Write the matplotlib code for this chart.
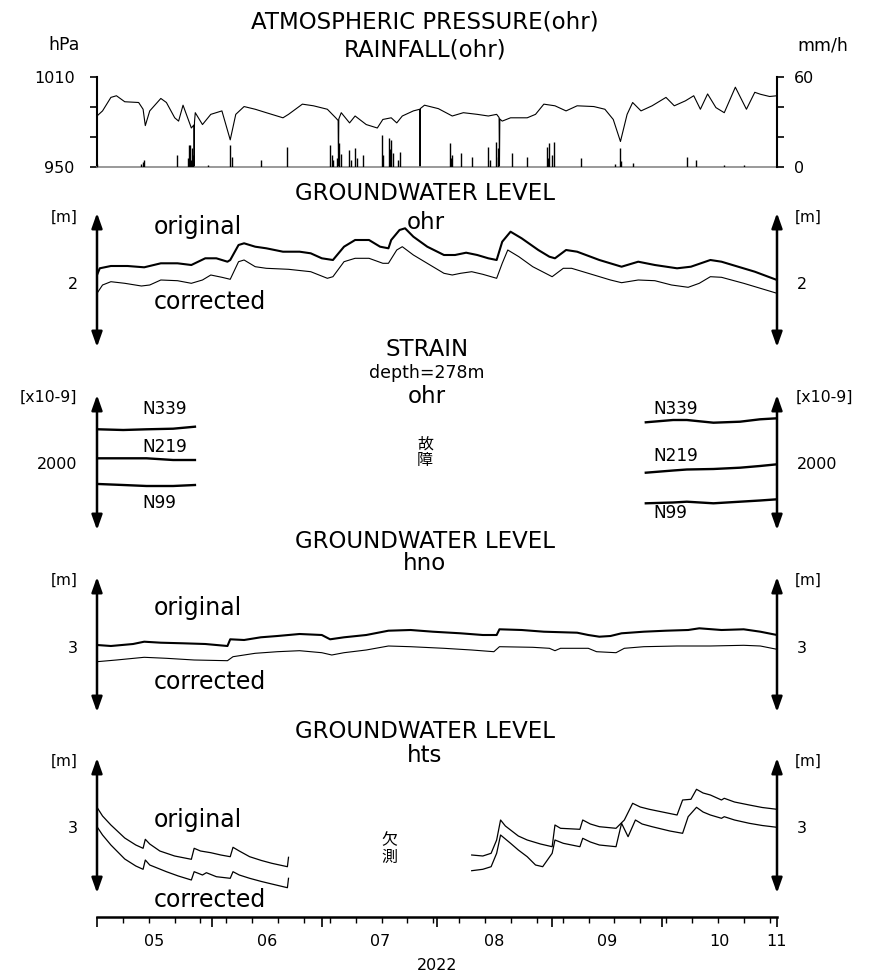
import numpy as np
import matplotlib
matplotlib.use("Agg")
import matplotlib.pyplot as plt
import matplotlib.dates as mdates
from matplotlib.transforms import blended_transform_factory

plt.rcParams['font.family'] = ['DejaVu Sans', 'Noto Sans CJK JP']

# ---------------- data (day offsets from 2022-05-01 00:00) ----------------
pressure_day = [0.0, 1.5, 3.76, 5.26, 7.51, 11.27, 12.47, 13.07, 14.27, 17.27, 18.78, 21.03,
                22.08, 23.28, 25.53, 26.2, 26.29, 26.38, 26.59, 28.54, 30.79, 33.80, 36.05,
                37.55, 39.80, 42.81, 45.81, 50.32, 51.82, 55.57, 58.58, 62.33, 64.59, 65.25,
                65.34, 65.43, 66.09, 68.34, 69.84, 72.85, 75.85, 77.35, 79.61, 81.11, 82.61,
                85.61, 87.33, 87.42, 87.51, 88.62, 92.37, 96.13, 99.13, 102.89, 105.89, 108.14,
                108.8, 108.9, 109.0, 109.65, 111.90, 116.41, 118.66, 120.91, 123.92, 126.92,
                129.92, 134.43, 137.43, 139.69, 141.64, 143.44, 144.94, 147.20, 150.20, 153.96,
                156.21, 159.21, 161.47, 163.27, 165.22, 167.47, 169.73, 172.73, 175.73, 177.99,
                179.5, 182.0, 184.0]
pressure_hpa = [984.0, 987.4, 996.4, 997.5, 993.5, 993.0, 988.5, 977.6, 987.4, 995.7, 993.0, 982.8,
                980.6, 991.2, 976.0, 978.0, 950.0, 980.0, 986.2, 978.3, 985.1, 987.4, 968.1,
                985.1, 990.3, 988.5, 986.2, 982.8, 985.1, 991.9, 990.8, 988.5, 982.8, 981.0,
                950.0, 982.0, 986.2, 979.4, 984.0, 978.3, 976.0, 981.7, 982.8, 979.4, 984.0,
                987.4, 988.5, 950.0, 989.0, 991.2, 988.9, 984.0, 986.2, 985.1, 984.0, 985.1,
                983.0, 950.0, 982.0, 980.6, 982.8, 982.8, 985.1, 991.9, 990.8, 987.4,
                990.8, 990.3, 988.5, 981.7, 967.0, 985.1, 993.0, 987.4, 990.8, 996.4,
                990.8, 994.1, 997.5, 988.5, 998.7, 989.6, 986.2, 1003.2, 988.5, 999.8,
                998.5, 997.0, 997.5]

rain_day = [0.0, 12.0, 12.4, 12.77, 21.78, 24.5, 24.8, 25.2, 25.5, 25.8, 26.0, 30.0, 36.05, 36.5,
            44.3, 51.5, 63.1, 63.5, 63.8, 65.0, 65.6, 66.0, 68.3, 68.8, 69.8, 70.3, 72.1, 77.0,
            77.5, 78.9, 79.2, 79.6, 80.1, 81.4, 81.9, 95.4, 95.8, 96.1, 98.4, 101.4, 105.9,
            106.3, 108.1, 108.4, 108.6, 112.35, 116.4, 121.7, 122.0, 122.4, 123.2, 123.6,
            131.1, 140.1, 141.6, 141.9, 144.9, 159.7, 162.2, 169.7, 175.0]
rain_mmh = [2.3, 2.3, 3.5, 5.0, 7.9, 6.0, 14.7, 14.7, 5.0, 12.5, 8.0, 1.1, 14.7, 6.8,
            4.5, 13.6, 14.7, 8.0, 4.5, 6.0, 15.8, 9.0, 11.3, 5.0, 12.5, 6.0, 7.9, 21.5,
            8.0, 19.2, 12.0, 18.1, 9.1, 5.0, 10.2, 15.8, 6.0, 7.9, 9.5, 6.8, 13.6,
            5.0, 17.0, 7.0, 12.5, 9.1, 6.8, 13.6, 6.0, 15.8, 8.0, 17.0,
            5.7, 2.3, 12.5, 4.0, 2.7, 6.8, 4.5, 1.1, 1.1]

ohr_orig_day = [0.0, 0.75, 3.76, 8.26, 12.77, 17.27, 21.78, 25.53, 29.29, 32.29, 35.30, 36.05,
                38.30, 39.80, 42.81, 45.81, 50.32, 54.82, 57.83, 60.83, 63.84, 66.84, 69.84,
                73.60, 76.60, 78.86, 79.61, 81.86, 83.36, 85.61, 89.37, 93.88, 96.88, 99.88,
                102.89, 105.89, 108.14, 109.65, 111.90, 114.90, 119.41, 122.41, 123.92, 126.92,
                129.92, 135.93, 141.94, 146.45, 150.95, 156.96, 160.71, 165.97, 168.98, 173.48,
                177.99, 184.0]
ohr_orig_m = [2.080, 2.147, 2.170, 2.170, 2.157, 2.197, 2.197, 2.180, 2.247, 2.247, 2.213, 2.230,
              2.380, 2.397, 2.363, 2.347, 2.313, 2.313, 2.297, 2.247, 2.230, 2.363, 2.430,
              2.430, 2.363, 2.347, 2.430, 2.530, 2.547, 2.463, 2.363, 2.280, 2.280, 2.303,
              2.280, 2.247, 2.230, 2.413, 2.513, 2.447, 2.330, 2.263, 2.247, 2.330,
              2.313, 2.230, 2.163, 2.213, 2.180, 2.147, 2.163, 2.230, 2.213, 2.163,
              2.113, 2.030]
ohr_corr_day = [0.0, 1.50, 3.76, 7.51, 12.02, 14.27, 17.27, 21.78, 25.53, 28.54, 30.79, 33.80,
                36.05, 38.30, 39.80, 42.81, 45.81, 51.82, 57.83, 62.33, 63.84, 66.84, 69.84,
                73.60, 77.35, 78.86, 81.11, 82.61, 85.61, 90.12, 93.88, 96.13, 98.38, 101.39,
                104.39, 108.14, 109.65, 111.15, 114.15, 117.91, 123.16, 126.17, 128.42, 132.93,
                138.94, 141.94, 146.45, 150.95, 155.46, 159.96, 162.97, 165.97, 168.98, 174.98,
                179.49, 184.0]
ohr_corr_m = [1.897, 1.980, 2.013, 1.997, 1.970, 1.980, 2.030, 2.023, 1.997, 2.030, 2.080, 2.057,
              2.037, 2.213, 2.230, 2.163, 2.147, 2.137, 2.113, 2.047, 2.063, 2.213, 2.247,
              2.247, 2.197, 2.197, 2.330, 2.363, 2.280, 2.180, 2.097, 2.080, 2.097, 2.113,
              2.087, 2.047, 2.197, 2.330, 2.263, 2.163, 2.063, 2.147, 2.147, 2.097,
              2.030, 2.003, 2.030, 2.023, 1.980, 1.957, 1.997, 2.063, 2.057, 1.997,
              1.947, 1.897]

strain_left_day = [0.35, 7.1, 13.4, 20.6, 26.5]
strain_right_day = [148.5, 155.9, 159.6, 166.8, 174.0, 179.4, 184.0]
n339_left = [2337, 2330, 2337, 2343, 2363]
n219_left = [2047, 2047, 2047, 2030, 2030]
n99_left = [1790, 1780, 1770, 1770, 1780]
n339_right = [2407, 2430, 2430, 2403, 2413, 2437, 2447]
n219_right = [1903, 1925, 1935, 1940, 1953, 1970, 1987]
n99_right = [1597, 1605, 1613, 1597, 1613, 1625, 1637]

hno_orig_day = [0.0, 3.76, 9.76, 12.77, 17.27, 23.28, 29.29, 35.30, 36.05, 39.80, 44.31, 48.82,
                54.82, 60.83, 63.08, 66.84, 72.85, 78.86, 84.86, 90.87, 98.38, 104.39, 108.14,
                108.90, 114.90, 120.91, 129.92, 132.93, 135.93, 138.94, 141.94, 147.95, 153.96,
                159.96, 162.97, 168.98, 174.98, 179.49, 184.0]
hno_orig_m = [3.020, 3.010, 3.030, 3.053, 3.043, 3.037, 3.030, 3.010, 3.077, 3.070, 3.097, 3.110,
              3.130, 3.120, 3.077, 3.097, 3.120, 3.163, 3.170, 3.153, 3.137, 3.120, 3.120,
              3.177, 3.170, 3.153, 3.143, 3.120, 3.103, 3.110, 3.137, 3.153, 3.163,
              3.170, 3.187, 3.170, 3.177, 3.153, 3.120]
hno_corr_day = [0.0, 5.26, 12.77, 18.78, 26.29, 35.30, 36.80, 42.81, 48.82, 54.82, 60.83, 63.53,
                66.84, 72.85, 78.86, 84.86, 93.88, 101.39, 107.39, 108.90, 117.91, 122.41,
                123.92, 125.42, 132.93, 135.18, 140.44, 142.69, 147.95, 156.96, 165.97, 174.98,
                179.49, 184.0]
hno_corr_m = [2.853, 2.870, 2.897, 2.887, 2.870, 2.863, 2.903, 2.937, 2.953, 2.963, 2.943, 2.920,
              2.943, 2.970, 3.010, 3.003, 2.987, 2.970, 2.953, 3.003, 2.997, 2.987,
              2.963, 2.987, 2.987, 2.953, 2.943, 2.987, 3.003, 3.010, 3.010, 3.017,
              3.010, 2.977]

hts_orig_a_day = [0.0, 1.5, 3.76, 7.51, 10.5, 12.47, 13.07, 14.27, 17.0, 21.0, 25.53, 26.29, 28.0,
                  30.79, 33.5, 36.05, 36.80, 38.5, 41.3, 44.5, 47.3, 51.52, 51.82]
hts_orig_a_m = [3.197, 3.110, 3.020, 2.890, 2.820, 2.787, 2.877, 2.830, 2.760, 2.710, 2.677, 2.787,
                2.760, 2.743, 2.720, 2.703, 2.797, 2.760, 2.703, 2.665, 2.637, 2.603, 2.697]
hts_orig_b_day = [101.39, 104.39, 106.64, 108.14, 109.2, 110.5, 111.90, 114.0, 116.41, 120.0,
                  123.16, 123.92, 125.42, 130.67, 131.43, 133.5, 135.93, 140.44, 142.69, 144.94,
                  147.0, 149.45, 153.0, 156.96, 158.46, 160.71, 162.22, 164.0, 165.97, 168.98,
                  169.73, 172.5, 176.5, 180.0, 184.0]
hts_orig_b_m = [2.720, 2.710, 2.737, 2.870, 3.070, 3.010, 2.970, 2.910, 2.870, 2.830,
                2.803, 3.020, 2.987, 2.977, 3.070, 3.030, 3.003, 2.987, 3.070, 3.237,
                3.200, 3.177, 3.150, 3.120, 3.270, 3.277, 3.377, 3.340, 3.320, 3.270,
                3.287, 3.250, 3.220, 3.195, 3.177]
hts_corr_a_day = [0.0, 1.5, 3.76, 7.51, 10.5, 12.47, 13.07, 14.27, 18.78, 22.0, 25.53, 26.29, 28.54,
                  29.6, 32.3, 36.05, 36.80, 38.5, 41.3, 44.5, 47.3, 51.52, 51.82]
hts_corr_a_m = [3.003, 2.920, 2.820, 2.680, 2.610, 2.577, 2.670, 2.620, 2.553, 2.510, 2.470, 2.553,
                2.520, 2.543, 2.503, 2.487, 2.553, 2.520, 2.487, 2.455, 2.430, 2.393, 2.487]
hts_corr_b_day = [101.39, 104.39, 106.64, 108.14, 109.2, 110.5, 111.90, 114.0, 116.41, 118.66,
                  120.6, 123.16, 123.92, 126.17, 130.67, 131.43, 133.5, 135.93, 140.44, 141.94,
                  143.7, 145.69, 147.5, 150.20, 155.0, 158.46, 159.96, 162.22, 164.0, 165.97,
                  168.98, 169.73, 172.5, 176.5, 180.0, 184.0]
hts_corr_b_m = [2.563, 2.577, 2.603, 2.737, 2.920, 2.880, 2.837, 2.770, 2.703, 2.620,
                2.603, 2.737, 2.870, 2.837, 2.803, 2.887, 2.850, 2.820, 2.803, 3.037,
                2.903, 3.070, 3.030, 3.003, 2.960, 2.937, 3.103, 3.197, 3.150, 3.120,
                3.087, 3.103, 3.070, 3.037, 3.015, 2.997]

month_labels = ['05', '06', '07', '08', '09', '10', '11']

# ---------------- helpers ----------------
T0 = np.datetime64('2022-05-01T00:00')
T1 = np.datetime64('2022-11-01T00:00')


def t(days):
    return T0 + np.round(np.asarray(days, float) * 1440).astype('int64').astype('timedelta64[m]')


W, H = 870, 976
X0, X1 = 97, 777
fig = plt.figure(figsize=(W / 100, H / 100), dpi=100)


def panel(ytop, ybot):
    ax = fig.add_axes([X0 / W, 1 - ybot / H, (X1 - X0) / W, (ybot - ytop) / H])
    ax.set_xlim(T0, T1)
    ax.patch.set_visible(False)
    return ax


def ftext(x, y, s, size, ha='center', va='center', **kw):
    fig.text(x / W, 1 - y / H, s, fontsize=size, ha=ha, va=va, **kw)


def arrow_panel(ax, ylim, ytick):
    ax.set_ylim(*ylim)
    for s in ax.spines.values():
        s.set_visible(False)
    ax.set_xticks([])
    ax.set_yticks([ytick])
    ax.tick_params(axis='y', length=0, pad=14, labelleft=True, labelright=True, labelsize=11.5)
    for xf in (0, 1):
        ax.annotate('', xy=(xf, 1), xytext=(xf, 0), xycoords='axes fraction',
                    arrowprops=dict(arrowstyle='<|-|>,head_length=0.9,head_width=0.32',
                                    lw=1.8, color='k', shrinkA=0, shrinkB=0,
                                    mutation_scale=10),
                    annotation_clip=False)


TITLE = 16.5
LAB = 17

# ---------------- panel 1: pressure & rainfall ----------------
ax1 = panel(77, 167)
ax1.plot(t(pressure_day), pressure_hpa, color='k', lw=0.8)
ax1.set_ylim(950, 1010)
ax1.set_yticks([950, 970, 990, 1010])
ax1.set_yticklabels(['950', '', '', '1010'])
ax1.tick_params(axis='y', length=5, width=1.2, pad=11, labelsize=11.5)
ax1.tick_params(axis='x', bottom=False, labelbottom=False)
ax1.spines['top'].set_visible(False)
ax1.spines['right'].set_visible(False)
ax1.spines['left'].set_linewidth(1.5)
ax1.spines['bottom'].set_color('#888888')
ax1.spines['bottom'].set_linewidth(1.2)

ax1r = ax1.twinx()
ax1r.set_xlim(T0, T1)
ax1r.vlines(t(rain_day), 0, rain_mmh, color='k', lw=1.0)
ax1r.set_ylim(0, 60)
ax1r.set_yticks([0, 20, 40, 60])
ax1r.set_yticklabels(['0', '', '', '60'])
ax1r.tick_params(axis='y', length=5, width=1.2, pad=7, labelsize=11.5)
for s in ('top', 'bottom', 'left'):
    ax1r.spines[s].set_visible(False)
ax1r.spines['right'].set_linewidth(1.5)

ftext(425, 22, 'ATMOSPHERIC PRESSURE(ohr)', TITLE)
ftext(425, 50, 'RAINFALL(ohr)', TITLE)
ftext(80, 45, 'hPa', 12.5, ha='right')
ftext(797, 45, 'mm/h', 12.5, ha='left')

# ---------------- panel 2: groundwater ohr ----------------
ax2 = panel(213, 347)
ax2.plot(t(ohr_orig_day), ohr_orig_m, color='k', lw=1.5)
ax2.plot(t(ohr_corr_day), ohr_corr_m, color='k', lw=0.8)
arrow_panel(ax2, (1.36, 2.70), 2)
ftext(425, 193, 'GROUNDWATER LEVEL', TITLE)
ftext(426, 223, 'ohr', TITLE)
ftext(154, 227, 'original', LAB, ha='left')
ftext(154, 302, 'corrected', LAB, ha='left')
ftext(78, 217, '[m]', 11, ha='right')
ftext(795, 217, '[m]', 11, ha='left')

# ---------------- panel 3: strain ----------------
ax3 = panel(395, 530)
for ser_l, ser_r in ((n339_left, n339_right), (n219_left, n219_right), (n99_left, n99_right)):
    ax3.plot(t(strain_left_day), ser_l, color='k', lw=1.7)
    ax3.plot(t(strain_right_day), ser_r, color='k', lw=1.7)
arrow_panel(ax3, (1330, 2680), 2000)
ftext(427, 350, 'STRAIN', TITLE)
ftext(427, 373, 'depth=278m', 12.5)
ftext(427, 397, 'ohr', TITLE)
ftext(77, 397, '[x10-9]', 11.3, ha='right')
ftext(796, 397, '[x10-9]', 11.3, ha='left')
for y, s in ((409, 'N339'), (447, 'N219'), (503, 'N99')):
    ftext(142, y, s, 12.2, ha='left')
for y, s in ((409, 'N339'), (456, 'N219'), (513, 'N99')):
    ftext(653, y, s, 12.2, ha='left')
ftext(425, 452, '故\n障', 11.5, linespacing=1.1)

# ---------------- panel 4: groundwater hno ----------------
ax4 = panel(577, 712)
ax4.plot(t(hno_orig_day), hno_orig_m, color='k', lw=1.5)
ax4.plot(t(hno_corr_day), hno_corr_m, color='k', lw=0.8)
arrow_panel(ax4, (2.35, 3.70), 3)
ftext(425, 542, 'GROUNDWATER LEVEL', TITLE)
ftext(425, 563, 'hno', TITLE)
ftext(154, 608, 'original', LAB, ha='left')
ftext(154, 682, 'corrected', LAB, ha='left')
ftext(78, 580, '[m]', 11, ha='right')
ftext(795, 580, '[m]', 11, ha='left')

# ---------------- panel 5: groundwater hts ----------------
ax5 = panel(758, 893)
ax5.plot(t(hts_orig_a_day), hts_orig_a_m, color='k', lw=0.9)
ax5.plot(t(hts_orig_b_day), hts_orig_b_m, color='k', lw=0.9)
ax5.plot(t(hts_corr_a_day), hts_corr_a_m, color='k', lw=0.9)
ax5.plot(t(hts_corr_b_day), hts_corr_b_m, color='k', lw=0.9)
arrow_panel(ax5, (2.34, 3.69), 3)
ftext(425, 732, 'GROUNDWATER LEVEL', TITLE)
ftext(425, 755, 'hts', TITLE)
ftext(154, 820, 'original', LAB, ha='left')
ftext(154, 900, 'corrected', LAB, ha='left')
ftext(78, 761, '[m]', 11, ha='right')
ftext(795, 761, '[m]', 11, ha='left')
ftext(389, 849, '欠\n測', 11.5, linespacing=1.1)

# ---------------- time axis ----------------
axx = panel(905, 917)
for s in ('top', 'left', 'right'):
    axx.spines[s].set_visible(False)
axx.spines['bottom'].set_linewidth(1.8)
axx.set_yticks([])
axx.xaxis.set_major_locator(mdates.MonthLocator())
axx.xaxis.set_minor_locator(mdates.WeekdayLocator(byweekday=mdates.SU))
axx.xaxis.set_major_formatter(plt.NullFormatter())
axx.tick_params(axis='x', which='major', length=7, width=1.2, direction='out')
axx.tick_params(axis='x', which='minor', length=4, width=1.0, direction='out')
month_starts = np.arange(np.datetime64('2022-05'), np.datetime64('2022-12'),
                         np.timedelta64(1, 'M')).astype('datetime64[m]')
label_pos = list(month_starts[:-1] + (month_starts[1:] - month_starts[:-1]) / 2) + [month_starts[-1]]
trans = blended_transform_factory(axx.transData, fig.transFigure)
for pos, lab in zip(label_pos, month_labels):
    axx.text(mdates.date2num(pos), 1 - 942 / H, lab, transform=trans, ha='center', va='center',
             fontsize=11.5)
ftext(437, 965, '2022', 11.5)

fig.savefig('out.png', dpi=100)
